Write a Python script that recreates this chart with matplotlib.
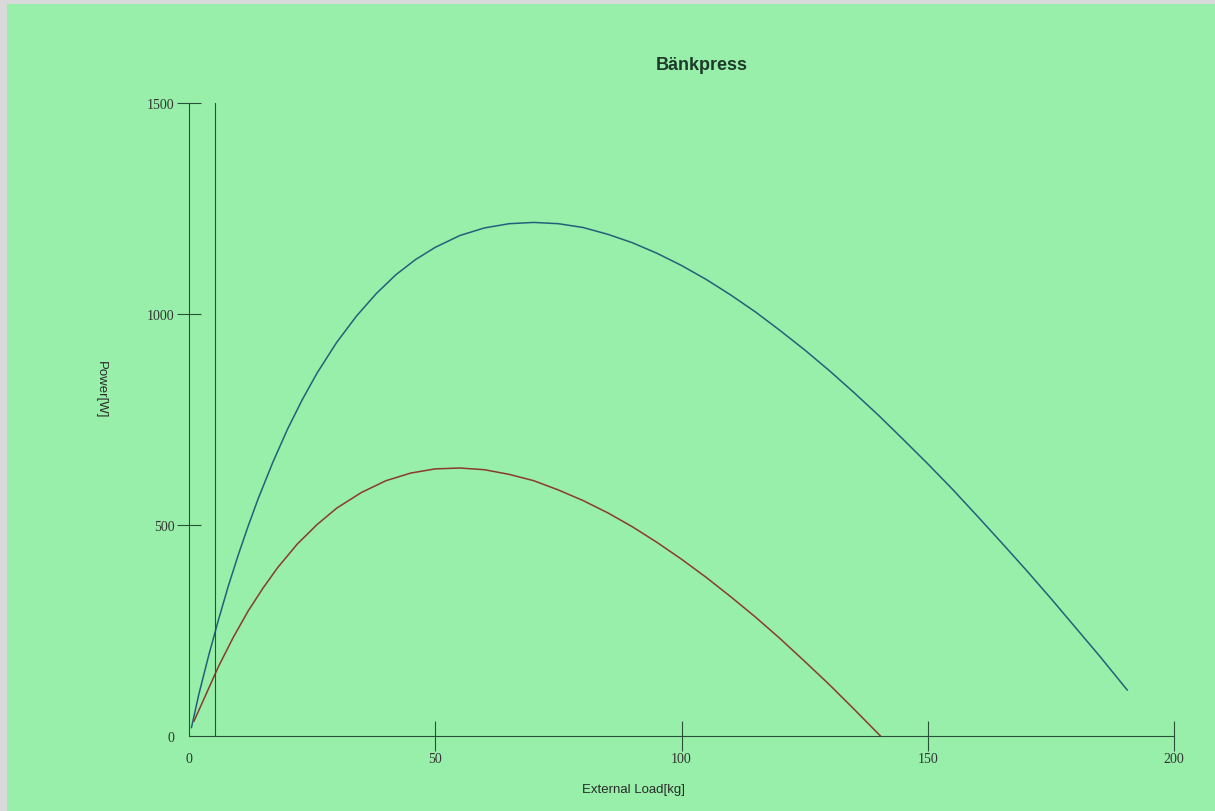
import matplotlib.pyplot as plt
from matplotlib.patches import Rectangle

# Power-load curves, bench press
load_a = [0.5, 2, 4, 6, 8, 10, 12, 14, 17, 20, 23, 26, 30, 34, 38, 42, 46, 50, 55, 60,
          65, 70, 75, 80, 85, 90, 95, 100, 105, 110, 115, 120, 125, 130, 135, 140,
          145, 150, 155, 160, 165, 170, 175, 180, 185, 190.5]
power_a = [20, 99, 191, 276, 356, 429, 497, 561, 648, 727, 797, 860, 933, 995, 1048,
           1093, 1129, 1158, 1186, 1204, 1214, 1217, 1214, 1205, 1189, 1169, 1144, 1115,
           1082, 1045, 1005, 961, 915, 866, 814, 760, 703, 645, 585, 522, 458, 393, 326,
           257, 188, 109]

load_b = [1, 3, 6, 9, 12, 15, 18, 22, 26, 30, 35, 40, 45, 50, 55, 60, 65, 70, 75, 80,
          85, 90, 95, 100, 105, 110, 115, 120, 125, 130, 135, 140.4]
power_b = [35, 87, 165, 234, 296, 350, 399, 455, 501, 540, 577, 605, 623, 633, 635, 631,
           620, 605, 583, 558, 529, 496, 459, 419, 376, 330, 282, 231, 177, 122, 64, 0]

marker_load = 5.3

x_ticks = [0, 50, 100, 150, 200]
y_ticks = [0, 500, 1000, 1500]

paper = '#97efa9'
ink = '#2c4f3a'

fig = plt.figure(figsize=(12.15, 8.12), dpi=100, facecolor='#d9d9d9')
fig.patches.append(Rectangle((7 / 1215, 0), 1, (812 - 5) / 812, transform=fig.transFigure,
                             facecolor=paper, edgecolor='none', zorder=-10))

ax = fig.add_axes([189 / 1215, 75 / 812, 985 / 1215, 633 / 812])
ax.set_facecolor('none')
ax.set_zorder(2)

ax.plot(load_a, power_a, color='#24607a', linewidth=1.1, clip_on=False)
ax.plot(load_b, power_b, color='#8a3b2b', linewidth=1.1, clip_on=False)
ax.axvline(marker_load, color=ink, linewidth=0.8)

ax.set_xlim(0, 200)
ax.set_ylim(0, 1500)
for side in ['top', 'right']:
    ax.spines[side].set_visible(False)
for side in ['left', 'bottom']:
    ax.spines[side].set_color(ink)
    ax.spines[side].set_linewidth(0.8)

ax.set_xticks(x_ticks)
ax.set_yticks(y_ticks)
ax.tick_params(axis='x', direction='inout', length=21, width=0.8, color=ink, pad=1,
               labelsize=10, labelcolor='#333333')
ax.tick_params(axis='y', direction='inout', length=17, width=0.8, color=ink, pad=2,
               labelsize=10, labelcolor='#333333')
for lab in ax.get_xticklabels() + ax.get_yticklabels():
    lab.set_fontfamily('Liberation Serif')
# no tick marks at the origin
ax.xaxis.get_major_ticks()[0].tick1line.set_visible(False)
ax.yaxis.get_major_ticks()[0].tick1line.set_visible(False)

fig.text(702 / 1215, 1 - 66 / 812, 'Bänkpress', ha='center', va='center',
         fontsize=13, fontweight='bold', family='Liberation Sans', color='#1d3a2a')
fig.text(634 / 1215, 1 - 790 / 812, 'External Load[kg]', ha='center', va='center',
         fontsize=9.5, family='Liberation Sans', color='#2a2a2a')
fig.text(101 / 1215, 1 - 390 / 812, 'Power[W]', ha='center', va='center', rotation=-90,
         fontsize=9.5, family='Liberation Sans', color='#2a2a2a')

fig.savefig('out.png', dpi=100, facecolor=fig.get_facecolor())
